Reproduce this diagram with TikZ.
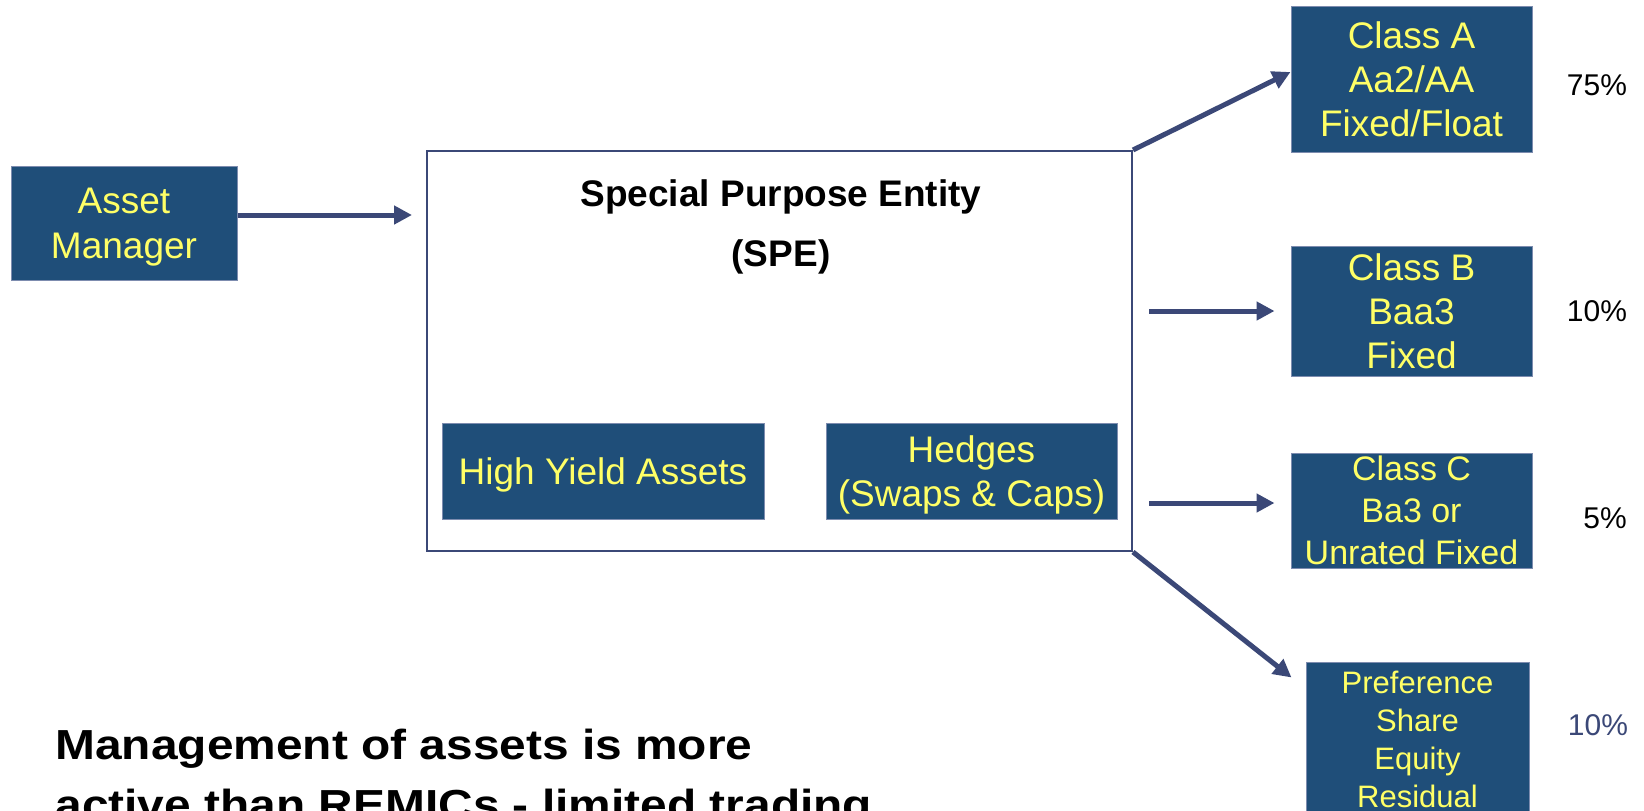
\documentclass[tikz,border=0pt]{standalone}
\usepackage{fontspec}
\setmainfont{Liberation Sans}
\usepackage{graphicx}
\usetikzlibrary{arrows.meta}

\definecolor{boxblue}{RGB}{31,78,121}
\definecolor{boxedge}{RGB}{125,140,175}
\definecolor{flowblue}{RGB}{59,72,119}
\definecolor{txtyellow}{RGB}{255,255,102}

\begin{document}
\begin{tikzpicture}[x=0.5pt, y=-0.5pt,
    box/.style={fill=boxblue, draw=boxedge, line width=0.5pt,
        text=txtyellow, align=center, inner sep=0pt, text depth=0pt},
    flow/.style={draw=flowblue, line width=2.5pt,
        -{Triangle[length=9pt,width=9pt]}},
    pct/.style={font=\fontsize{15}{18}\selectfont}]
    %% Page
    \path[use as bounding box, fill=white] (0,0) rectangle (1644,810);
    \clip (0,0) rectangle (1644,810);

    %% Asset manager and SPE
    \node[box, minimum width=113pt, minimum height=57pt,
        font=\fontsize{18.5}{22.5}\selectfont]
        (am) at (124,223) {Asset\\Manager};
    \node[draw=flowblue, line width=1pt, inner sep=0pt,
        minimum width=352.5pt, minimum height=200pt]
        (spe) at (779.5,351) {};
    \node[font=\bfseries\fontsize{18.5}{30}\selectfont, align=center]
        (title) at (781,227) {Special Purpose Entity\\(SPE)};
    \node[box, minimum width=161pt, minimum height=48pt,
        font=\fontsize{18.5}{22}\selectfont]
        (hy) at (603,471) {High Yield Assets};
    \node[box, minimum width=145.5pt, minimum height=48pt,
        font=\fontsize{18.5}{22}\selectfont]
        (hedge) at (971.5,471) {Hedges\\(Swaps \& Caps)};

    %% Classes
    \node[box, minimum width=120.5pt, minimum height=73pt,
        font=\fontsize{18.5}{22}\selectfont]
        (ca) at (1411.5,79) {Class A\\Aa2/AA\\Fixed/Float};
    \node[box, minimum width=120.5pt, minimum height=65pt,
        font=\fontsize{18.5}{22}\selectfont]
        (cb) at (1411.5,311) {Class B\\Baa3\\Fixed};
    \node[box, minimum width=120.5pt, minimum height=57.5pt, inner ysep=-3pt,
        font=\fontsize{17}{21}\selectfont]
        (cc) at (1411.5,510.5) {Class C\\Ba3 or\\Unrated Fixed};
    \node[box, minimum width=111.5pt, minimum height=77pt,
        font=\fontsize{15.5}{19}\selectfont]
        (pref) at (1417.5,739) {Preference\\Share\\Equity\\Residual};

    %% Shares
    \node[pct] (pa) at (1597,85) {75\%};
    \node[pct] (pb) at (1597,311) {10\%};
    \node[pct] (pc) at (1605,518) {5\%};
    \node[pct, text=flowblue] (pd) at (1598,725) {10\%};

    %% Arrows
    \coordinate (spein) at (412,215);
    \draw[flow] (am.east |- spein) -- (spein);
    \draw[flow] (spe.north east) -- ([yshift=3.5pt]ca.west);
    \draw[flow] ([xshift=8pt]spe.east |- cb.west) -- ([xshift=-8pt]cb.west);
    \draw[flow] ([xshift=8pt,yshift=3.75pt]spe.east |- cc.west)
        -- ([xshift=-8pt,yshift=3.75pt]cc.west);
    \draw[flow] (spe.south east) -- ([xshift=-7pt,yshift=-8pt]pref.north west);

    %% Note
    \node[anchor=base west, inner sep=0pt, font=\bfseries\fontsize{21}{30}\selectfont]
        (note) at (55,759) {\scalebox{1.14}[1]{Management of assets is more}};
    \node[anchor=base west, inner sep=0pt, font=\bfseries\fontsize{21}{30}\selectfont]
        (note2) at (55,819) {\scalebox{1.14}[1]{active than REMICs - limited trading}};
\end{tikzpicture}
\end{document}
